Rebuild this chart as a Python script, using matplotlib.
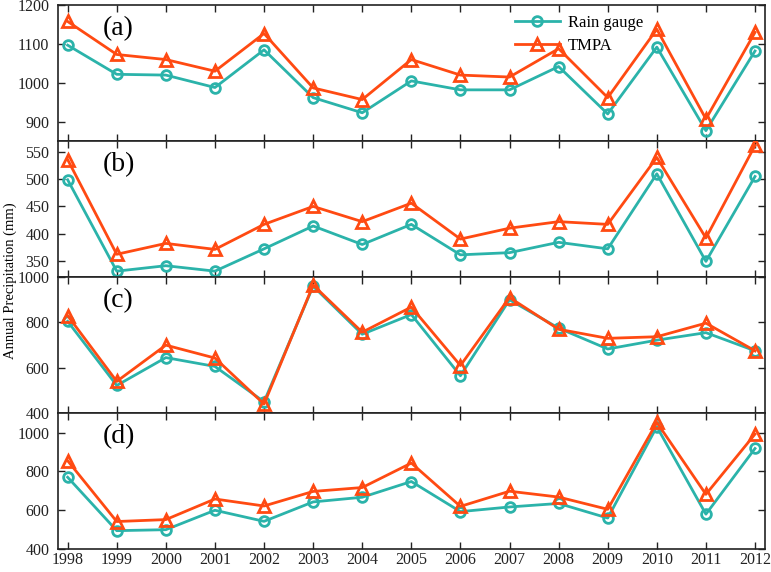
import numpy as np
import matplotlib.pyplot as plt

plt.rcParams['font.family'] = ['Liberation Serif', 'DejaVu Serif']

years = list(range(1998, 2013))

gauge_a = [1097, 1022, 1020, 988, 1085, 962, 923, 1005, 982, 982, 1042, 920, 1092, 877, 1082]
tmpa_a = [1158, 1073, 1060, 1030, 1127, 987, 957, 1060, 1020, 1015, 1088, 962, 1138, 907, 1130]

gauge_b = [499, 331, 341, 331, 372, 414, 380, 417, 361, 365, 384, 372, 510, 349, 505]
tmpa_b = [536, 362, 382, 371, 417, 450, 422, 456, 390, 410, 422, 417, 540, 392, 562]

gauge_c = [805, 522, 645, 606, 450, 960, 748, 835, 565, 900, 775, 683, 722, 755, 675]
tmpa_c = [830, 540, 700, 643, 440, 965, 757, 868, 610, 910, 770, 730, 737, 797, 675]

gauge_d = [770, 495, 500, 600, 543, 643, 667, 748, 593, 617, 635, 560, 1030, 580, 918]
tmpa_d = [855, 542, 552, 658, 622, 697, 717, 843, 620, 698, 668, 605, 1052, 682, 992]

panels = [
    ("(a)", gauge_a, tmpa_a, (850, 1200), [900, 1000, 1100, 1200]),
    ("(b)", gauge_b, tmpa_b, (320, 570), [350, 400, 450, 500, 550]),
    ("(c)", gauge_c, tmpa_c, (400, 1000), [400, 600, 800, 1000]),
    ("(d)", gauge_d, tmpa_d, (400, 1100), [400, 600, 800, 1000]),
]

teal = "#2bb3aa"
orange = "#ff4a12"

fig, axes = plt.subplots(4, 1, figsize=(7.71, 5.72), dpi=100, sharex=True)
fig.subplots_adjust(left=0.075, right=0.992, bottom=0.04, top=0.991, hspace=0)

for ax, (label, g, t, ylim, yticks) in zip(axes, panels):
    ax.plot(years, g, color=teal, lw=2, marker="o", ms=7, mfc="none",
            mew=2, label="Rain gauge", zorder=3)
    ax.plot(years, t, color=orange, lw=2, marker="^", ms=9, mfc="none",
            mew=2, label="TMPA", zorder=4)
    ax.set_ylim(*ylim)
    ax.set_yticks(yticks)
    ax.set_xlim(1997.8, 2012.2)
    ax.set_xticks(years)
    ax.tick_params(direction="in", top=True, right=True, labelsize=11.5,
                   length=5, width=1, colors="#222222", pad=6)
    for s in ax.spines.values():
        s.set_linewidth(1.2)
        s.set_color("#222222")
    ax.text(0.064, 0.83, label, transform=ax.transAxes, fontsize=20,
            ha="left", va="center")

axes[-1].set_xticklabels([str(y) for y in years])
axes[-1].tick_params(axis="x", pad=2)
axes[0].legend(loc="upper left", bbox_to_anchor=(0.625, 1.04), frameon=False,
               fontsize=12, handlelength=2.7, labelspacing=0.45,
               handletextpad=0.5)

fig.text(0.013, 0.51, "Annual Precipitation (mm)", rotation=90,
         ha="center", va="center", fontsize=10.5)

fig.savefig("out.png", dpi=100)
